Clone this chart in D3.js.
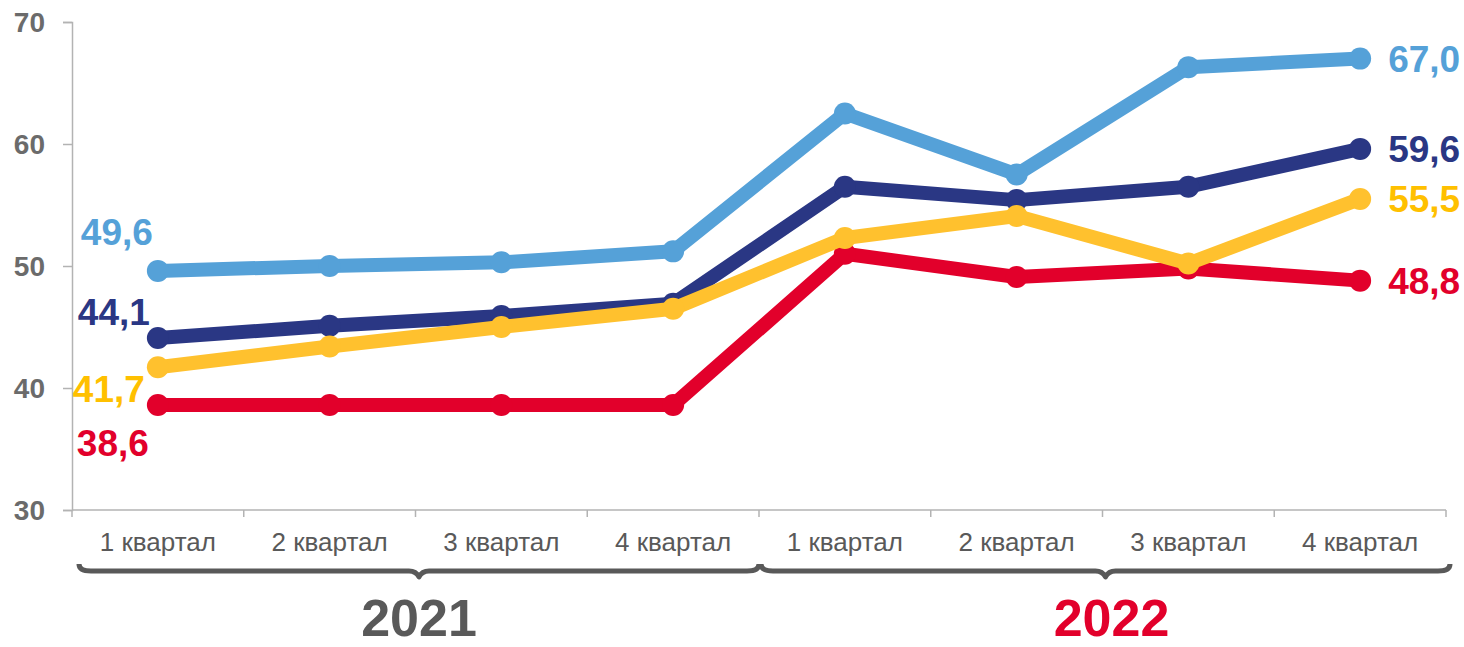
<!DOCTYPE html>
<html><head><meta charset="utf-8">
<script src="https://cdn.jsdelivr.net/npm/d3@7"></script>
<style>html,body{margin:0;padding:0;background:#fff;}svg{display:block;font-family:"Liberation Sans",Arial,sans-serif;}</style>
</head><body><svg id="c" width="1464" height="647"></svg>
<script>
const categories = ["1 квартал","2 квартал","3 квартал","4 квартал","1 квартал","2 квартал","3 квартал","4 квартал"];
const years = ["2021","2022"];
const yTicks = [30,40,50,60,70];
const lightBlue = [49.6,50.0,50.3,51.2,62.5,57.5,66.3,67.0];
const darkBlue  = [44.1,45.1,45.9,46.9,56.5,55.4,56.5,59.6];
const yellow    = [41.7,43.4,45.0,46.5,52.3,54.1,50.2,55.5];
const red       = [38.6,38.6,38.6,38.6,51.0,49.1,49.8,48.8];

const svg = d3.select("#c");
const x = d3.scaleBand().domain(d3.range(categories.length)).range([72,1446]).padding(0);
const y = d3.scaleLinear().domain([30,70]).range([510,22]);
const cx = i => x(i) + x.bandwidth()/2;

// axes
const ya = svg.append("g").attr("transform","translate(72,0)")
  .call(d3.axisLeft(y).tickValues(yTicks).tickSize(9).tickPadding(18).tickFormat(d3.format("d")));
ya.select(".domain").attr("stroke","#b3b3b3").attr("stroke-width",1.5);
ya.selectAll(".tick line").attr("stroke","#b3b3b3").attr("stroke-width",1.5);
ya.selectAll(".tick text").attr("fill","#6b6b6b").attr("font-size",28).attr("font-weight","bold")
  .attr("font-family","Liberation Sans, Arial, sans-serif").attr("dy","0.34em");

const xa = svg.append("g").attr("transform","translate(0,510)");
xa.append("line").attr("x1",72).attr("x2",1446).attr("stroke","#b3b3b3").attr("stroke-width",1.5);
const bounds = d3.range(categories.length+1).map(i => i < categories.length ? x(i) : x(categories.length-1)+x.bandwidth());
xa.selectAll("line.tk").data(bounds).join("line").attr("class","tk")
  .attr("x1",d=>d).attr("x2",d=>d).attr("y1",0).attr("y2",7).attr("stroke","#b3b3b3").attr("stroke-width",1.5);
xa.selectAll("text").data(categories).join("text")
  .attr("x",(d,i)=>cx(i)).attr("y",41).attr("text-anchor","middle")
  .attr("font-size",26).attr("fill","#595959").text(d=>d);

// braces
function brace(x0,x1,yb){
  const xm=(x0+x1)/2;
  return `M${x0},${yb-7} Q${x0},${yb} ${x0+12},${yb} L${xm-10},${yb} Q${xm-3},${yb} ${xm},${yb+6} Q${xm+3},${yb} ${xm+10},${yb} L${x1-12},${yb} Q${x1},${yb} ${x1},${yb-7}`;
}
const braceX = [[x(0)+7, x(4)], [x(4)+2, x(7)+x.bandwidth()+4]];
svg.selectAll("path.brace").data(braceX).join("path").attr("class","brace")
  .attr("d",d=>brace(d[0],d[1],571)).attr("fill","none").attr("stroke","#595959").attr("stroke-width",5).attr("stroke-linejoin","round");
svg.selectAll("text.year").data(years).join("text").attr("class","year")
  .attr("x",(d,i)=>(braceX[i][0]+braceX[i][1])/2+(i?6:0)).attr("y",636).attr("text-anchor","middle")
  .attr("font-size",52).attr("font-weight","bold").attr("fill",(d,i)=>i?"#e2002b":"#595959").text(d=>d);

// series
const series = [
  {v:red, c:"#e2002b", lc:"#e2002b", first:{dx:-45,dy:38}},
  {v:lightBlue, c:"#55a1d8", lc:"#55a1d8", first:{dx:-41,dy:-39}},
  {v:darkBlue, c:"#2a3784", lc:"#2a3784", first:{dx:-44,dy:-26}},
  {v:yellow, c:"#ffc12e", lc:"#ffc000", first:{dx:-49,dy:22}},
];
const line = d3.line().x((d,i)=>cx(i)).y(d=>y(d));
const fmt = v => v.toFixed(1).replace(".",",");
series.forEach(s=>{
  const g = svg.append("g");
  g.append("path").attr("d",line(s.v)).attr("fill","none").attr("stroke",s.c).attr("stroke-width",14).attr("stroke-linejoin","round");
  g.selectAll("circle").data(s.v).join("circle").attr("cx",(d,i)=>cx(i)).attr("cy",d=>y(d)).attr("r",11).attr("fill",s.c);
});
series.forEach(s=>{
  const n=s.v.length;
  svg.append("text").attr("x",cx(0)+s.first.dx).attr("y",y(s.v[0])+s.first.dy).attr("dy","0.35em")
    .attr("text-anchor","middle").attr("font-size",37).attr("font-weight","bold").attr("fill",s.lc).text(fmt(s.v[0]));
  svg.append("text").attr("x",cx(n-1)+28).attr("y",y(s.v[n-1])).attr("dy","0.35em")
    .attr("text-anchor","start").attr("font-size",37).attr("font-weight","bold").attr("fill",s.lc).text(fmt(s.v[n-1]));
});
</script></body></html>
